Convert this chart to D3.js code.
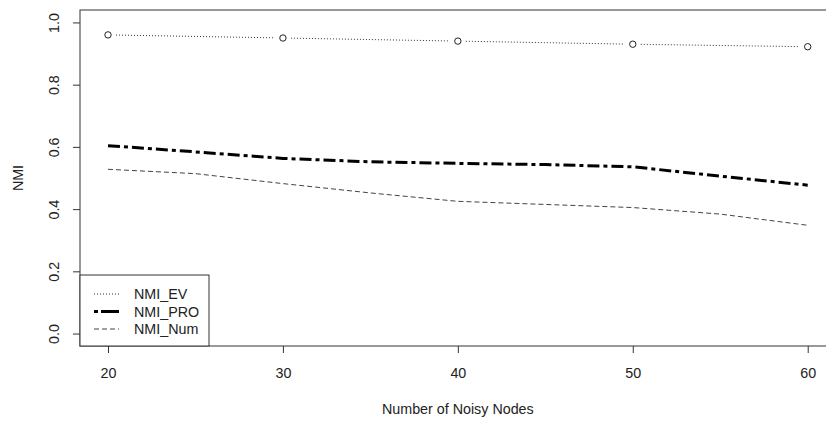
<!DOCTYPE html>
<html><head><meta charset="utf-8">
<script src="https://cdn.jsdelivr.net/npm/d3@7"></script>
<style>
html,body{margin:0;padding:0;background:#fff;}
text{font-family:"Liberation Sans",Arial,sans-serif;fill:#222;}
</style></head>
<body>
<svg id="chart" width="826" height="421"></svg>
<script>
// ---- data ----
const xEV = [20, 30, 40, 50, 60];
const nmiEV = [0.960, 0.950, 0.940, 0.930, 0.922];
const xDense = [20, 25, 30, 35, 40, 45, 50, 55, 60];
const nmiPRO = [0.604, 0.584, 0.563, 0.552, 0.547, 0.543, 0.536, 0.506, 0.477];
const nmiNum = [0.528, 0.514, 0.482, 0.452, 0.425, 0.415, 0.405, 0.384, 0.348];
const xTicks = [20, 30, 40, 50, 60];
const yTicks = [0.0, 0.2, 0.4, 0.6, 0.8, 1.0];
const legendLabels = ["NMI_EV", "NMI_PRO", "NMI_Num"];
const xTitle = "Number of Noisy Nodes";
const yTitle = "NMI";

// ---- layout ----
const svg = d3.select("#chart");
const pL = 80, pR = 835.7, pT = 10, pB = 346;
const x = d3.scaleLinear().domain([18.4, 61.6]).range([pL, pR]);
const y = d3.scaleLinear().domain([-0.04, 1.04]).range([pB, pT]);
const FS = 14.3;
const FF = '"Liberation Sans",Arial,sans-serif';

const styles = [
  {stroke:"#333", width:1, dash:"1,2"},
  {stroke:"#000", width:3, dash:"12,4,4,4"},
  {stroke:"#444", width:1, dash:"5,3"}
];

// ---- axes ----
const yAxis = d3.axisLeft(y).tickValues(yTicks).tickSize(7).tickFormat(d3.format(".1f"));
const gy = svg.append("g").attr("transform", `translate(${pL},0)`).call(yAxis);
gy.select(".domain").remove();
gy.selectAll(".tick line").attr("stroke", "#333");
gy.selectAll(".tick text")
  .attr("x", null).attr("dy", null)
  .attr("transform", "translate(-26,0) rotate(-90)")
  .attr("text-anchor", "middle").attr("dominant-baseline", "central")
  .style("font-size", FS + "px").style("font-family", FF).attr("fill", "#222");

const xAxis = d3.axisBottom(x).tickValues(xTicks).tickSize(7).tickFormat(d3.format("d"));
const gx = svg.append("g").attr("transform", `translate(0,${pB})`).call(xAxis);
gx.select(".domain").remove();
gx.selectAll(".tick line").attr("stroke", "#333");
gx.selectAll(".tick text")
  .attr("y", 27).attr("dy", null).attr("dominant-baseline", "central")
  .style("font-size", FS + "px").style("font-family", FF).attr("fill", "#222");

svg.append("text").attr("x", (pL + pR) / 2).attr("y", 409)
  .attr("text-anchor", "middle").attr("dominant-baseline", "central")
  .style("font-size", FS + "px").text(xTitle);
svg.append("text").attr("transform", `translate(18,${(pT + pB) / 2}) rotate(-90)`)
  .attr("text-anchor", "middle").attr("dominant-baseline", "central")
  .style("font-size", FS + "px").text(yTitle);

// ---- series ----
const line = d3.line().x(d => x(d[0])).y(d => y(d[1]));

const gap = 8;
const evPts = xEV.map((v, i) => [x(v), y(nmiEV[i])]);
for (let i = 0; i < evPts.length - 1; i++) {
  const [x0, y0] = evPts[i], [x1, y1] = evPts[i + 1];
  const L = Math.hypot(x1 - x0, y1 - y0), ux = (x1 - x0) / L, uy = (y1 - y0) / L;
  svg.append("line")
    .attr("x1", x0 + ux * gap).attr("y1", y0 + uy * gap)
    .attr("x2", x1 - ux * gap).attr("y2", y1 - uy * gap)
    .attr("stroke", styles[0].stroke).attr("stroke-width", styles[0].width)
    .attr("stroke-dasharray", styles[0].dash);
}
svg.selectAll("circle.ev").data(xEV.map((v, i) => [v, nmiEV[i]])).enter()
  .append("circle").attr("class", "ev")
  .attr("cx", d => x(d[0])).attr("cy", d => y(d[1])).attr("r", 3.2)
  .attr("fill", "none").attr("stroke", "#222").attr("stroke-width", 1);

svg.append("path").datum(xDense.map((v, i) => [v, nmiPRO[i]]))
  .attr("d", line).attr("fill", "none")
  .attr("stroke", styles[1].stroke).attr("stroke-width", styles[1].width)
  .attr("stroke-dasharray", styles[1].dash);

svg.append("path").datum(xDense.map((v, i) => [v, nmiNum[i]]))
  .attr("d", line).attr("fill", "none")
  .attr("stroke", styles[2].stroke).attr("stroke-width", styles[2].width)
  .attr("stroke-dasharray", styles[2].dash);

// ---- box ----
svg.append("rect").attr("x", pL).attr("y", pT).attr("width", pR - pL).attr("height", pB - pT)
  .attr("fill", "none").attr("stroke", "#333").attr("stroke-width", 1);

// ---- legend ----
const lg = svg.append("g");
lg.append("rect").attr("x", pL).attr("y", 275).attr("width", 129).attr("height", pB - 275)
  .attr("fill", "#fff").attr("stroke", "#333").attr("stroke-width", 1);
const ly = [294, 311.5, 329];
legendLabels.forEach((lab, i) => {
  lg.append("line").attr("x1", 94).attr("x2", 119).attr("y1", ly[i]).attr("y2", ly[i])
    .attr("stroke", styles[i].stroke).attr("stroke-width", styles[i].width)
    .attr("stroke-dasharray", i === 1 ? "4,3,18,4" : styles[i].dash);
  lg.append("text").attr("x", 134).attr("y", ly[i]).attr("dominant-baseline", "central")
    .style("font-size", FS + "px").text(lab);
});
</script>
</body></html>
